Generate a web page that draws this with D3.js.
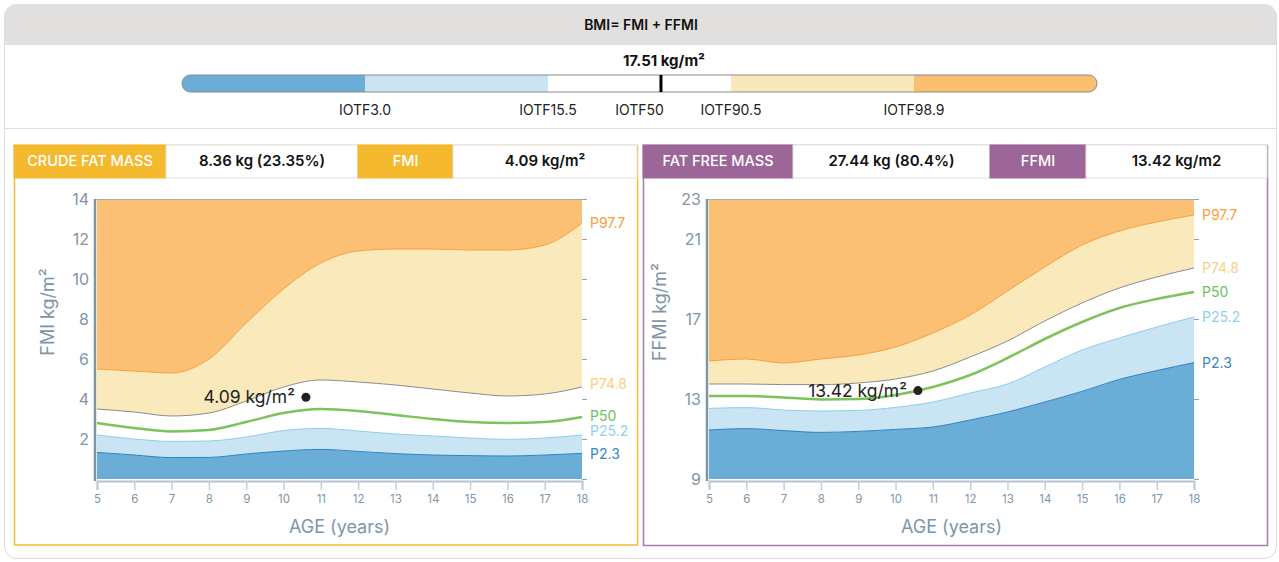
<!DOCTYPE html>
<html>
<head>
<meta charset="utf-8">
<script src="https://cdn.jsdelivr.net/npm/d3@7"></script>
<style>
  body { margin: 0; background: #fff; font-family: Inter, 'Open Sans', sans-serif; }
  svg { display: block; }
</style>
</head>
<body>
<div id="chart"></div>
<script>
// ---- data ----
const ages = [5, 6, 7, 8, 9, 10, 11, 12, 13, 14, 15, 16, 17, 18];

const fmiP2_3  = [1.33, 1.2, 1.07, 1.08, 1.25, 1.4, 1.48, 1.38, 1.27, 1.2, 1.17, 1.15, 1.2, 1.28];
const fmiP25_2 = [2.2, 2.0, 1.88, 1.9, 2.1, 2.42, 2.53, 2.4, 2.25, 2.15, 2.05, 1.98, 2.05, 2.2];
const fmiP50   = [2.8, 2.55, 2.38, 2.45, 2.85, 3.3, 3.5, 3.4, 3.2, 3.0, 2.85, 2.8, 2.85, 3.1];
const fmiP74_8 = [3.5, 3.35, 3.15, 3.3, 3.9, 4.6, 4.95, 4.85, 4.7, 4.5, 4.3, 4.15, 4.25, 4.6];
const fmiP97_7 = [5.5, 5.4, 5.3, 6.0, 7.8, 9.5, 10.8, 11.4, 11.5, 11.5, 11.45, 11.45, 11.7, 12.8];

const ffmiP2_3  = [11.45, 11.52, 11.42, 11.33, 11.38, 11.48, 11.6, 11.95, 12.35, 12.85, 13.38, 13.98, 14.42, 14.82];
const ffmiP25_2 = [12.53, 12.57, 12.45, 12.4, 12.43, 12.58, 12.85, 13.3, 13.75, 14.6, 15.45, 16.05, 16.6, 17.1];
const ffmiP50   = [13.15, 13.15, 13.08, 12.98, 13.0, 13.2, 13.6, 14.2, 15.05, 16.0, 16.85, 17.55, 18.0, 18.35];
const ffmiP74_8 = [13.75, 13.75, 13.72, 13.72, 13.8, 14.0, 14.4, 15.1, 15.9, 16.9, 17.8, 18.55, 19.1, 19.55];
const ffmiP97_7 = [14.9, 15.0, 14.8, 15.0, 15.2, 15.6, 16.3, 17.2, 18.4, 19.6, 20.7, 21.4, 21.85, 22.2];

const percentileNames = ['P2.3', 'P25.2', 'P50', 'P74.8', 'P97.7'];
const fmiTicks = [2, 4, 6, 8, 10, 12, 14];
const fmiSideTicks = [0, 2, 4, 6, 8, 10, 12, 14];
const ffmiTicks = [9, 13, 17, 21, 23];

const iotfLabels  = ['IOTF3.0', 'IOTF15.5', 'IOTF50', 'IOTF90.5', 'IOTF98.9'];
const iotfCutoffs = [13.6, 15.0, 16.9, 19.5, 23.5];
const bmiRange = [12.0, 27.5];
const bmiValue = 17.51;

const childAge = 10.6;
const fmiValue = 4.09;
const ffmiValue = 13.42;

const fatHeader  = ['CRUDE FAT MASS', '8.36 kg (23.35%)', 'FMI', '4.09 kg/m²'];
const leanHeader = ['FAT FREE MASS', '27.44 kg (80.4%)', 'FFMI', '13.42 kg/m2'];

// ---- drawing ----
const W = 1279, H = 562;
const axisColor = '#7f95a7';

const svg = d3.select('#chart').append('svg')
    .attr('width', W).attr('height', H);

// outer card
svg.append('rect')
    .attr('x', 4.5).attr('y', 4.5).attr('width', 1272).attr('height', 554)
    .attr('rx', 12).attr('fill', '#fff').attr('stroke', '#dcdcdc');

svg.append('path')
    .attr('d', 'M4.5,45 V16.5 A12,12 0 0 1 16.5,4.5 H1264.5 A12,12 0 0 1 1276.5,16.5 V45 Z')
    .attr('fill', '#e1e0de');

svg.append('text')
    .attr('x', 641).attr('y', 25).attr('dy', '0.35em')
    .attr('text-anchor', 'middle')
    .attr('font-size', 14).attr('font-weight', 600).attr('fill', '#111')
    .text('BMI= FMI + FFMI');

svg.append('line')
    .attr('x1', 4.5).attr('x2', 1276.5).attr('y1', 128.5).attr('y2', 128.5)
    .attr('stroke', '#dedede');

// ---- IOTF bar ----
const barX = [182, 1097], barY = 75, barH = 17;
const segW = (barX[1] - barX[0]) / 5;
const bmiScale = d3.scaleLinear()
    .domain([bmiRange[0], iotfCutoffs[0], iotfCutoffs[1], iotfCutoffs[2], iotfCutoffs[3], iotfCutoffs[4], bmiRange[1]])
    .range([0, 1, 2, 2.5, 3, 4, 5].map(k => barX[0] + k * segW));

const bandEdges = [bmiRange[0], iotfCutoffs[0], iotfCutoffs[1], iotfCutoffs[3], iotfCutoffs[4], bmiRange[1]];
const barColors = ['#6aaed7', '#c9e5f3', '#ffffff', '#f9e8bb', '#fbbf72'];

svg.append('clipPath').attr('id', 'barClip')
  .append('rect')
    .attr('x', barX[0]).attr('y', barY).attr('width', barX[1] - barX[0]).attr('height', barH)
    .attr('rx', 8.5);

svg.append('g').attr('clip-path', 'url(#barClip)')
  .selectAll('rect').data(barColors).join('rect')
    .attr('x', (d, i) => bmiScale(bandEdges[i]))
    .attr('width', (d, i) => bmiScale(bandEdges[i + 1]) - bmiScale(bandEdges[i]))
    .attr('y', barY).attr('height', barH)
    .attr('fill', d => d);

svg.append('rect')
    .attr('x', barX[0]).attr('y', barY).attr('width', barX[1] - barX[0]).attr('height', barH)
    .attr('rx', 8.5).attr('fill', 'none').attr('stroke', '#8a8a8a');

svg.append('line')
    .attr('x1', bmiScale(bmiValue)).attr('x2', bmiScale(bmiValue))
    .attr('y1', barY).attr('y2', barY + barH)
    .attr('stroke', '#000').attr('stroke-width', 3);

svg.append('text')
    .attr('x', bmiScale(bmiValue) + 3).attr('y', 61).attr('dy', '0.35em')
    .attr('text-anchor', 'middle')
    .attr('font-size', 15).attr('font-weight', 700).attr('fill', '#111')
    .text(bmiValue + ' kg/m²');

svg.selectAll('.iotf').data(iotfLabels).join('text')
    .attr('class', 'iotf')
    .attr('x', (d, i) => bmiScale(iotfCutoffs[i]))
    .attr('y', 110).attr('dy', '0.35em')
    .attr('text-anchor', 'middle')
    .attr('font-size', 14).attr('fill', '#222')
    .text(d => d);

// ---- header rows ----
function headerRow(cells, edges, color) {
  const g = svg.append('g');
  cells.forEach((txt, i) => {
    const filled = i % 2 === 0;
    g.append('rect')
        .attr('x', edges[i]).attr('y', 145)
        .attr('width', edges[i + 1] - edges[i]).attr('height', 33)
        .attr('fill', filled ? color : '#fff')
        .attr('stroke', filled ? color : '#e2e2e2');
    g.append('text')
        .attr('x', (edges[i] + edges[i + 1]) / 2).attr('y', 161).attr('dy', '0.35em')
        .attr('text-anchor', 'middle')
        .attr('font-size', filled ? 14.5 : 15)
        .attr('font-weight', filled ? 500 : 600)
        .attr('fill', filled ? '#fff' : '#111')
        .text(txt);
  });
}

svg.append('rect').attr('x', 14.5).attr('y', 145.5).attr('width', 623).attr('height', 399.5)
    .attr('fill', 'none').attr('stroke', '#f5bb35').attr('stroke-width', 1.5);
svg.append('rect').attr('x', 643.5).attr('y', 145.5).attr('width', 624).attr('height', 400)
    .attr('fill', 'none').attr('stroke', '#a57ea8').attr('stroke-width', 1.5);

headerRow(fatHeader, [14, 166, 358, 453, 637], '#f5b92e');
headerRow(leanHeader, [643, 793, 990, 1086, 1267], '#9c6698');

// ---- percentile chart ----
function growthChart(opt) {
  const g = svg.append('g');
  const x = d3.scaleLinear().domain([5, 18]).range([opt.left, opt.right]);
  const y = d3.scaleLinear().domain(opt.domain).range([479, 199]);
  const s = opt.series;   // P2.3, P25.2, P50, P74.8, P97.7

  const bands = [
    { lo: null, hi: s[0], fill: '#6aaed7' },
    { lo: s[0], hi: s[1], fill: '#c9e5f3' },
    { lo: s[3], hi: s[4], fill: '#f9e9bb' },
    { lo: s[4], hi: null, fill: '#fbc074' }
  ];

  const area = d3.area()
      .x(d => x(d.age))
      .y0(d => y(d.lo))
      .y1(d => y(d.hi))
      .curve(d3.curveMonotoneX);

  bands.forEach(b => {
    const rows = ages.map((a, i) => ({
      age: a,
      lo: b.lo ? b.lo[i] : opt.domain[0],
      hi: b.hi ? b.hi[i] : opt.domain[1]
    }));
    g.append('path').datum(rows).attr('d', area).attr('fill', b.fill);
  });

  const lineStyles = [
    { stroke: '#2f80c5', width: 1, label: '#3a86c8' },
    { stroke: '#8ecdf0', width: 1, label: '#93cef0' },
    { stroke: '#7cc35a', width: 2.5, label: '#6dbf5a' },
    { stroke: '#8c8c8c', width: 1, label: '#f9d27f' },
    { stroke: '#f7a03c', width: 1, label: '#f7a03c' }
  ];

  const line = d3.line()
      .x((d, i) => x(ages[i]))
      .y(d => y(d))
      .curve(d3.curveMonotoneX);

  s.forEach((vals, k) => {
    g.append('path').datum(vals).attr('d', line)
        .attr('fill', 'none')
        .attr('stroke', lineStyles[k].stroke)
        .attr('stroke-width', lineStyles[k].width);
    g.append('text')
        .attr('x', x(18) + 8)
        .attr('y', y(vals[vals.length - 1]) + (opt.labelShift[k] || 0))
        .attr('dy', '0.35em')
        .attr('font-size', 14)
        .attr('fill', lineStyles[k].label)
        .text(percentileNames[k]);
  });

  // top border
  g.append('line')
      .attr('x1', x(5) - 2).attr('x2', x(18)).attr('y1', 199.5).attr('y2', 199.5)
      .attr('stroke', '#a3aeb8');

  // left axis
  const yAxis = g.append('g')
      .attr('transform', `translate(${x(5) - 2},0)`)
      .call(d3.axisLeft(y).tickValues(opt.ticks).tickSize(0).tickPadding(6));
  yAxis.select('.domain').remove();
  yAxis.selectAll('text').attr('font-size', 16).attr('fill', axisColor).attr('font-family', 'Inter, sans-serif');
  g.append('line')
      .attr('x1', x(5) - 2).attr('x2', x(5) - 2).attr('y1', 199).attr('y2', 481)
      .attr('stroke', axisColor).attr('stroke-width', 2.5);

  // right side ticks
  const rAxis = g.append('g')
      .attr('transform', `translate(${x(18)},0)`)
      .call(d3.axisRight(y).tickValues(opt.sideTicks).tickSize(5).tickFormat(''));
  rAxis.select('.domain').remove();
  rAxis.selectAll('line').attr('stroke', '#8fa2b2');

  // bottom axis
  const xAxis = g.append('g')
      .attr('transform', 'translate(0,481)')
      .call(d3.axisBottom(x).tickValues(ages).tickSize(9).tickPadding(5));
  xAxis.select('.domain').attr('stroke', '#b5c1cb').attr('stroke-width', 2);
  xAxis.selectAll('line').attr('stroke', '#c7d0d7').attr('stroke-width', 1.5);
  xAxis.selectAll('text').attr('font-size', 11.5).attr('fill', axisColor).attr('font-family', 'Inter, sans-serif');

  // titles
  g.append('text')
      .attr('transform', `translate(${opt.left - 49},312) rotate(-90)`)
      .attr('text-anchor', 'middle').attr('dy', '0.35em')
      .attr('font-size', 18).attr('fill', axisColor)
      .text(opt.yTitle);
  g.append('text')
      .attr('x', (x(5) + x(18)) / 2).attr('y', 527).attr('dy', '0.35em')
      .attr('text-anchor', 'middle')
      .attr('font-size', 18).attr('fill', axisColor)
      .text('AGE (years)');

  // the child's value
  g.append('circle')
      .attr('cx', x(childAge)).attr('cy', y(opt.value)).attr('r', 4.5)
      .attr('fill', '#222');
  g.append('text')
      .attr('x', x(childAge) - 11).attr('y', y(opt.value)).attr('dy', '0.35em')
      .attr('text-anchor', 'end')
      .attr('font-size', 17.5).attr('fill', '#222')
      .text(opt.value + ' kg/m²');
}

growthChart({
  left: 97, right: 582,
  domain: [0, 14],
  ticks: fmiTicks, sideTicks: fmiSideTicks,
  series: [fmiP2_3, fmiP25_2, fmiP50, fmiP74_8, fmiP97_7],
  labelShift: [1, -4, -1, -3, 0],
  yTitle: 'FMI kg/m²',
  value: fmiValue
});

growthChart({
  left: 709, right: 1194,
  domain: [9, 23],
  ticks: ffmiTicks, sideTicks: ffmiTicks,
  series: [ffmiP2_3, ffmiP25_2, ffmiP50, ffmiP74_8, ffmiP97_7],
  labelShift: [0, 0, 0, 0, 0],
  yTitle: 'FFMI kg/m²',
  value: ffmiValue
});
</script>
</body>
</html>
